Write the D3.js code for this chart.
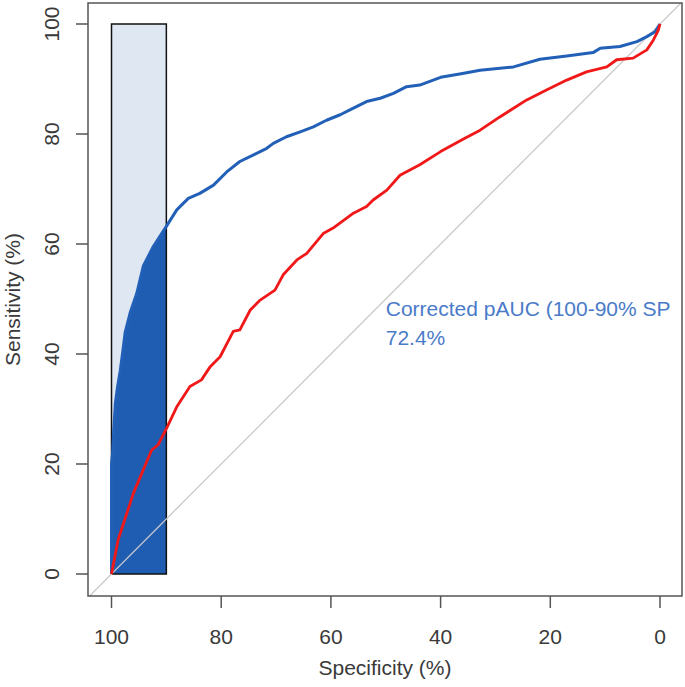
<!DOCTYPE html>
<html><head><meta charset="utf-8">
<script src="https://cdn.jsdelivr.net/npm/d3@7"></script>
<style>body{margin:0;background:#fff}svg{display:block}text{font-family:"Liberation Sans",Arial,sans-serif}</style>
</head><body>
<script>
// Blue ROC curve (specificity %, sensitivity %)
const blueSpec = [100,100,99.8,99.6,99.3,98.9,98.4,98.0,97.5,96.6,95.4,94.2,92.4,90.0,88.1,86.0,83.9,81.4,79.0,76.6,74.1,71.7,70.5,68.1,65.6,63.2,60.8,58.3,55.9,53.5,51.0,48.6,46.2,43.8,40.0,36.0,32.8,26.7,21.9,17.0,12.2,10.9,7.3,4.2,2.4,0.9,0];
const blueSens = [0,20,22,26,31,34,37,40,44,47.5,51,56,59.5,63.2,66.2,68.3,69.2,70.7,73.1,75.0,76.2,77.4,78.3,79.5,80.4,81.3,82.5,83.5,84.7,85.9,86.5,87.4,88.6,88.9,90.3,91.0,91.6,92.2,93.6,94.2,94.8,95.6,95.9,96.8,97.7,98.6,100];
// Red ROC curve
const redSpec = [100,98.8,98.4,96.0,92.7,91.5,89.9,88.1,85.7,83.6,82.0,80.2,77.8,76.6,74.7,72.9,70.2,68.7,66.2,64.4,61.4,59.6,55.9,53.5,52.3,49.8,47.4,43.8,40.0,36.0,32.8,29.2,24.3,20.7,17.0,13.4,9.7,7.9,4.9,2.4,1.2,0.3,0];
const redSens = [0,6.2,7.4,14.7,22.5,23.5,26.6,30.4,34.1,35.3,37.7,39.5,44.1,44.4,48.0,49.8,51.6,54.4,57.1,58.3,61.9,62.9,65.6,66.8,68.0,69.8,72.5,74.4,76.8,79.0,80.7,83.1,86.2,88.0,89.8,91.3,92.2,93.5,93.8,95.3,97.1,98.9,100];
const xTicks = [100,80,60,40,20,0];
const yTicks = [0,20,40,60,80,100];
const pRange = [100,90];
const labelLines = ["Corrected pAUC (100-90% SP", "72.4%"];
const xTitle = "Specificity (%)", yTitle = "Sensitivity (%)";

const W=685,H=687;
const box={l:88,t:3,r:682,b:596};
const x=d3.scaleLinear().domain([100,0]).range([111.5,660]);
const y=d3.scaleLinear().domain([0,100]).range([574,24]);

const svg=d3.select("body").append("svg").attr("width",W).attr("height",H);
svg.append("defs").append("clipPath").attr("id","clip")
  .append("rect").attr("x",box.l).attr("y",box.t).attr("width",box.r-box.l).attr("height",box.b-box.t);
const g=svg.append("g").attr("clip-path","url(#clip)");

const blue=blueSpec.map((s,i)=>({s,v:blueSens[i]}));
const red=redSpec.map((s,i)=>({s,v:redSens[i]}));

// focus rectangle fill
g.append("rect").attr("x",x(pRange[0])).attr("y",y(100)).attr("width",x(pRange[1])-x(pRange[0])).attr("height",y(0)-y(100))
  .attr("fill","#dfe7f3");
// partial area
const part=blue.filter(d=>d.s>=pRange[1]);
g.append("path").datum(part)
  .attr("d",d3.area().x(d=>x(d.s)).y0(y(0)).y1(d=>y(d.v)).curve(d3.curveMonotoneY))
  .attr("fill","#1f5db2");
// rect border
g.append("rect").attr("x",x(pRange[0])).attr("y",y(100)).attr("width",x(pRange[1])-x(pRange[0])).attr("height",y(0)-y(100))
  .attr("fill","none").attr("stroke","#111").attr("stroke-width",1.5);
// diagonal
const sL=x.invert(box.l), sR=x.invert(box.r);
g.append("line").attr("x1",x(sL)).attr("y1",y(100-sL)).attr("x2",x(sR)).attr("y2",y(100-sR))
  .attr("stroke","#c8c8c8").attr("stroke-width",1.3);
const line=d3.line().x(d=>x(d.s)).y(d=>y(d.v));
g.append("path").datum(blue).attr("d",line).attr("fill","none").attr("stroke","#2260b8").attr("stroke-width",3).attr("stroke-linejoin","round");
g.append("path").datum(red).attr("d",line).attr("fill","none").attr("stroke","#f01818").attr("stroke-width",2.8).attr("stroke-linejoin","round");

// annotation
const ann=svg.append("text").attr("fill","#4a7bc8").attr("font-size",21);
labelLines.forEach((t,i)=>ann.append("tspan").attr("x",x(50)).attr("y",316+i*29).text(t));

// plot box
svg.append("rect").attr("x",box.l).attr("y",box.t).attr("width",box.r-box.l).attr("height",box.b-box.t)
  .attr("fill","none").attr("stroke","#555").attr("stroke-width",1.5);

// axes
const axC="#555", txC="#3a3a3a";
const xa=svg.append("g");
xTicks.forEach(t=>{
  xa.append("line").attr("x1",x(t)).attr("x2",x(t)).attr("y1",box.b).attr("y2",box.b+12).attr("stroke",axC).attr("stroke-width",1.5);
  xa.append("text").attr("x",x(t)).attr("y",644).attr("text-anchor","middle").attr("font-size",21).attr("fill",txC).text(t);
});
const ya=svg.append("g");
yTicks.forEach(t=>{
  ya.append("line").attr("x1",box.l-12).attr("x2",box.l).attr("y1",y(t)).attr("y2",y(t)).attr("stroke",axC).attr("stroke-width",1.5);
  ya.append("text").attr("transform",`translate(59,${y(t)}) rotate(-90)`).attr("text-anchor","middle").attr("font-size",21).attr("fill",txC).text(t);
});
svg.append("text").attr("x",(box.l+box.r)/2).attr("y",675).attr("text-anchor","middle").attr("font-size",21).attr("fill",txC).text(xTitle);
svg.append("text").attr("transform",`translate(20,${(box.t+box.b)/2}) rotate(-90)`).attr("text-anchor","middle").attr("font-size",21).attr("fill",txC).text(yTitle);
</script>
</body></html>
